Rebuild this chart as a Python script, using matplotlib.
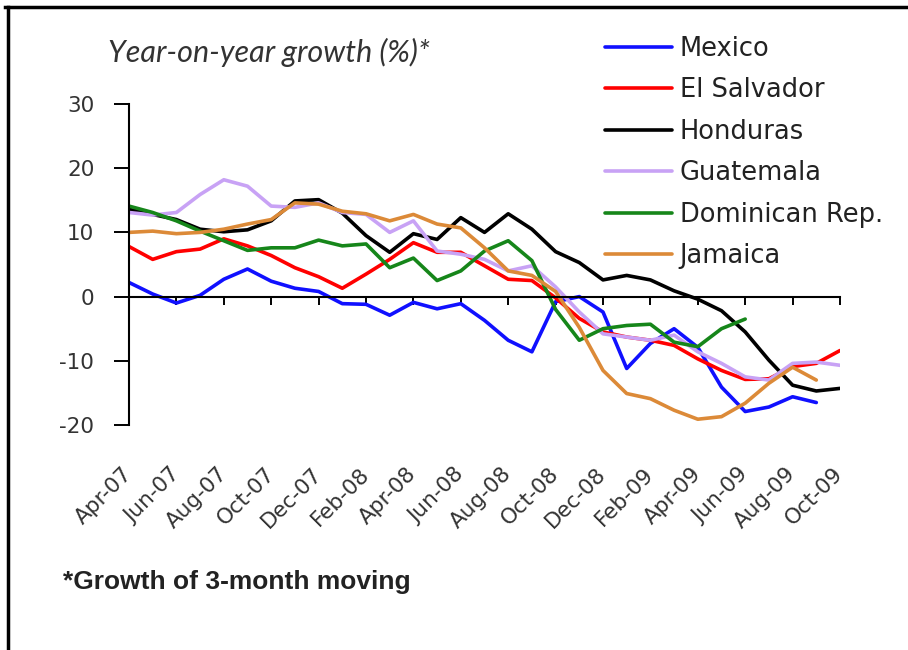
import numpy as np
import matplotlib
matplotlib.use("Agg")
import matplotlib.pyplot as plt
from matplotlib.lines import Line2D

plt.rcParams["axes.unicode_minus"] = False

nan = np.nan

months = ["Apr-07", "May-07", "Jun-07", "Jul-07", "Aug-07", "Sep-07", "Oct-07", "Nov-07",
          "Dec-07", "Jan-08", "Feb-08", "Mar-08", "Apr-08", "May-08", "Jun-08", "Jul-08",
          "Aug-08", "Sep-08", "Oct-08", "Nov-08", "Dec-08", "Jan-09", "Feb-09", "Mar-09",
          "Apr-09", "May-09", "Jun-09", "Jul-09", "Aug-09", "Sep-09", "Oct-09"]

mexico = [2.2, 0.4, -1.0, 0.2, 2.7, 4.3, 2.4, 1.3, 0.8, -1.1, -1.2, -2.9, -0.9, -1.9, -1.1, -3.7,
          -6.8, -8.6, -0.8, 0.0, -2.4, -11.2, -7.3, -5.0, -7.9, -14.1, -17.9, -17.2, -15.6, -16.5, nan]
el_salvador = [7.8, 5.8, 7.0, 7.4, 9.0, 7.9, 6.4, 4.5, 3.1, 1.3, 3.5, 5.8, 8.4, 6.9, 6.9, 4.8,
               2.7, 2.5, -0.2, -3.4, -5.5, -6.3, -6.8, -7.6, -9.7, -11.5, -12.9, -12.8, -10.9, -10.4, -8.4]
honduras = [13.6, 12.8, 12.0, 10.5, 10.1, 10.4, 11.8, 14.9, 15.1, 13.0, 9.5, 6.9, 9.8, 8.9, 12.3, 10.0,
            12.9, 10.5, 7.0, 5.3, 2.6, 3.3, 2.6, 0.9, -0.4, -2.2, -5.5, -9.9, -13.8, -14.7, -14.3]
guatemala = [13.1, 12.7, 13.1, 15.9, 18.2, 17.2, 14.1, 13.9, 14.6, 13.1, 12.8, 10.0, 11.8, 7.1, 6.6, 5.8,
             4.0, 4.8, 1.5, -2.4, -5.8, -6.3, -6.8, -6.0, -8.6, -10.4, -12.5, -13.0, -10.4, -10.2, -10.7]
dominican = [14.1, 13.1, 11.8, 10.2, 8.7, 7.2, 7.6, 7.6, 8.8, 7.9, 8.2, 4.5, 6.0, 2.5, 4.0, 7.1,
             8.7, 5.6, -2.0, -6.8, -5.0, -4.5, -4.3, -7.1, -7.8, -5.0, -3.5, nan, nan, nan, nan]
jamaica = [10.0, 10.2, 9.8, 10.0, 10.5, 11.3, 12.0, 14.6, 14.4, 13.3, 12.9, 11.8, 12.8, 11.3, 10.7, 7.6,
           4.0, 3.3, 0.8, -4.8, -11.5, -15.1, -15.9, -17.7, -19.1, -18.7, -16.6, -13.5, -11.0, -13.0, nan]

series = [
    ("Mexico", mexico, "#1010ff"),
    ("El Salvador", el_salvador, "#ff0000"),
    ("Honduras", honduras, "#000000"),
    ("Guatemala", guatemala, "#c8a2f5"),
    ("Dominican Rep.", dominican, "#16861a"),
    ("Jamaica", jamaica, "#dc8a38"),
]

fig = plt.figure(figsize=(9.08, 6.5), dpi=100)
ax = fig.add_axes([129 / 908, 1 - 425 / 650, 711 / 908, 321 / 650])

x = np.arange(len(months))
for name, vals, color in series:
    ax.plot(x, vals, color=color, lw=2.6, label=name, solid_capstyle="round",
            solid_joinstyle="round")

ax.set_xlim(0, len(months) - 1)
ax.set_ylim(-20, 30)
ax.set_yticks([-20, -10, 0, 10, 20, 30])

for s in ["top", "right"]:
    ax.spines[s].set_visible(False)
ax.spines["left"].set_linewidth(1.5)
ax.spines["bottom"].set_position(("data", 0))
ax.spines["bottom"].set_linewidth(1.5)

ax.set_xticks(x[::2])
ax.tick_params(axis="x", direction="out", length=6, width=1.4, labelbottom=False)
ax.tick_params(axis="y", direction="out", length=11, width=1.4, pad=14,
               labelsize=15.5, labelcolor="#333333")

# month labels sit under the plot area, not on the zero line
lab = ax.secondary_xaxis("bottom")
lab.spines["bottom"].set_visible(False)
lab.set_xticks(x[::2])
lab.set_xticklabels(months[::2], rotation=45, ha="right", va="center",
                    rotation_mode="anchor", fontsize=15.5, color="#333333")
lab.tick_params(axis="x", length=0, pad=33)

fig.text(108 / 908, 1 - 52 / 650, "Year-on-year growth (%)*", family="Lato", style="italic",
         fontsize=22, color="#333333", ha="left", va="center")
fig.text(63 / 908, 1 - 582 / 650, "*Growth of 3-month moving", family="Liberation Sans",
         weight="bold", fontsize=19, color="#222222", ha="left", va="center")

ax.legend(loc="upper left", bbox_to_anchor=(605 / 908, 1 - 36 / 650),
          bbox_transform=fig.transFigure, frameon=False, fontsize=18.5,
          handlelength=2.6, handletextpad=0.3, labelspacing=0.6,
          borderpad=0, borderaxespad=0, labelcolor="#222222")

# partial frame of the original picture
fig.add_artist(Line2D([5 / 908, 1.0], [1 - 7 / 650, 1 - 7 / 650], color="black", lw=2.5,
                      transform=fig.transFigure))
fig.add_artist(Line2D([8 / 908, 8 / 908], [0, 1 - 7 / 650], color="black", lw=2.5,
                      transform=fig.transFigure))

fig.savefig("out.png", dpi=100)
